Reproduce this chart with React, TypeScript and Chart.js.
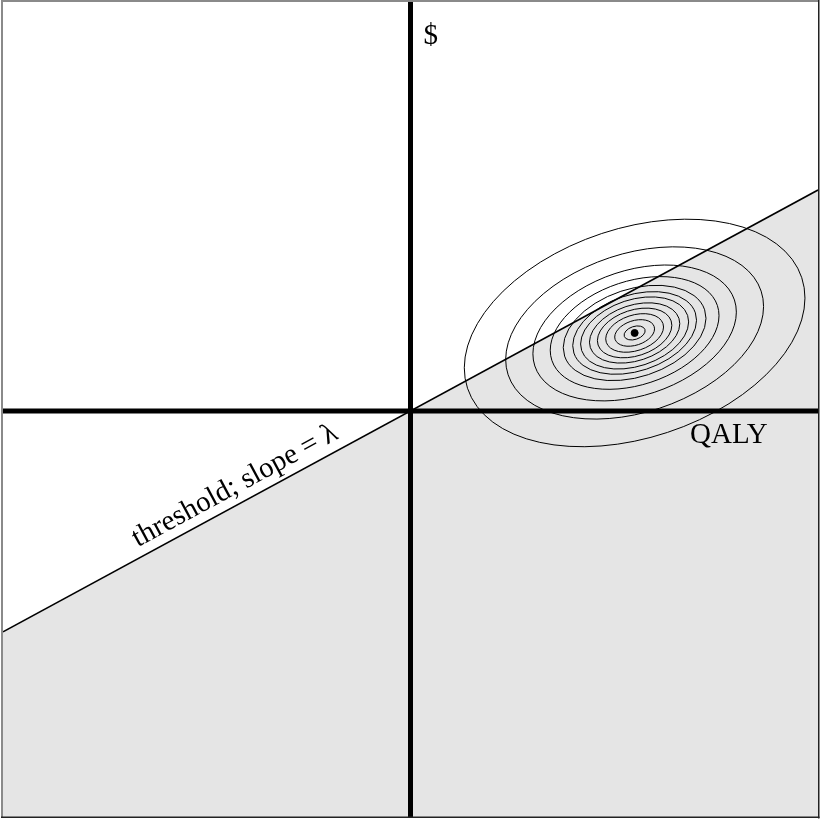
import React, { useEffect, useRef } from "react";
import { Chart, registerables } from "chart.js";
Chart.register(...registerables);

// ---- data ----
const xRange = [-1, 1];
const yRange = [-1, 1.007];
const lambdaSlope = 0.544;
const thresholdX = [-1, 1];
const meanPoint = [0.55, 0.192];
const contourSemiMajor = [0.0267, 0.0505, 0.0733, 0.0944, 0.1145, 0.137, 0.157, 0.181, 0.214, 0.258, 0.327, 0.432];
const contourAxisRatio = 0.595;
const contourAngleDeg = 18.3;
const costLabel = "$";
const effectLabel = "QALY";
const thresholdLabel = "threshold; slope = λ";

// label anchors (data coordinates)
const costLabelAt = [0.032, 0.904];
const effectLabelAt = [0.686, -0.079];
const thresholdLabelX = -0.41;

const FONT = "29px 'Liberation Serif', 'Times New Roman', serif";

const overlayPlugin = {
  id: "overlay",
  afterDatasetDraw(chart: any, args: any) {
    if (args.index !== 0) return;
    const { ctx, chartArea } = chart;
    const xs = chart.scales.x;
    const ys = chart.scales.y;
    const cx = xs.getPixelForValue(meanPoint[0]);
    const cy = ys.getPixelForValue(meanPoint[1]);
    const unit = xs.getPixelForValue(1) - xs.getPixelForValue(0);
    ctx.save();
    ctx.beginPath();
    ctx.rect(chartArea.left, chartArea.top, chartArea.right - chartArea.left, chartArea.bottom - chartArea.top);
    ctx.clip();
    ctx.strokeStyle = "#000";
    ctx.lineWidth = 1;
    for (const a of contourSemiMajor) {
      ctx.beginPath();
      ctx.ellipse(cx, cy, a * unit, a * contourAxisRatio * unit, (-contourAngleDeg * Math.PI) / 180, 0, Math.PI * 2);
      ctx.stroke();
    }
    ctx.restore();
  },
  afterDraw(chart: any) {
    const { ctx } = chart;
    const xs = chart.scales.x;
    const ys = chart.scales.y;
    ctx.save();
    // frame
    ctx.fillStyle = "#8a8a8a";
    ctx.fillRect(1, 0, 2, 818);
    ctx.fillRect(1, 0, 818, 2);
    ctx.fillStyle = "#222";
    ctx.fillRect(818, 0, 1.5, 818.5);
    ctx.fillRect(1, 816.5, 818.5, 1.5);
    // labels
    ctx.font = FONT;
    ctx.fillStyle = "#000";
    ctx.textBaseline = "alphabetic";
    ctx.textAlign = "left";
    ctx.fillText(costLabel, xs.getPixelForValue(costLabelAt[0]), ys.getPixelForValue(costLabelAt[1]));
    ctx.fillText(effectLabel, xs.getPixelForValue(effectLabelAt[0]), ys.getPixelForValue(effectLabelAt[1]));
    const px = xs.getPixelForValue(thresholdLabelX);
    const py = ys.getPixelForValue(thresholdLabelX * lambdaSlope);
    const ang = Math.atan2(
      ys.getPixelForValue(lambdaSlope) - ys.getPixelForValue(-lambdaSlope),
      xs.getPixelForValue(1) - xs.getPixelForValue(-1)
    );
    ctx.translate(px, py);
    ctx.rotate(ang);
    ctx.textAlign = "center";
    ctx.fillText(thresholdLabel, 0, -10);
    ctx.restore();
  },
};

export default function App() {
  const ref = useRef<HTMLCanvasElement | null>(null);
  useEffect(() => {
    if (!ref.current) return;
    const chart = new Chart(ref.current, {
      type: "scatter",
      data: {
        datasets: [
          {
            label: "threshold",
            data: thresholdX.map((x) => ({ x, y: x * lambdaSlope })),
            showLine: true,
            fill: "start",
            backgroundColor: "#e5e5e5",
            borderColor: "#000",
            borderWidth: 1.6,
            pointRadius: 0,
            order: 5,
          } as any,
          {
            label: "xaxis",
            data: [
              { x: xRange[0], y: 0 },
              { x: xRange[1], y: 0 },
            ],
            showLine: true,
            borderColor: "#000",
            borderWidth: 5,
            borderCapStyle: "square",
            clip: 0,
            pointRadius: 0,
            order: 1,
          } as any,
          {
            label: "yaxis",
            data: [
              { x: 0, y: yRange[0] },
              { x: 0, y: yRange[1] },
            ],
            showLine: true,
            borderColor: "#000",
            borderWidth: 5,
            borderCapStyle: "square",
            clip: 0,
            pointRadius: 0,
            order: 1,
          } as any,
          {
            label: "mean",
            data: [{ x: meanPoint[0], y: meanPoint[1] }],
            backgroundColor: "#000",
            borderColor: "#000",
            pointRadius: 3.5,
            order: 0,
          },
        ],
      },
      options: {
        responsive: false,
        animation: false,
        events: [],
        layout: { autoPadding: false, padding: { left: 3, right: 2, top: 2, bottom: 2 } },
        plugins: { legend: { display: false }, tooltip: { enabled: false } },
        scales: {
          x: { type: "linear", min: xRange[0], max: xRange[1], display: false },
          y: { type: "linear", min: yRange[0], max: yRange[1], display: false },
        },
      },
      plugins: [overlayPlugin],
    });
    return () => chart.destroy();
  }, []);
  return (
    <div style={{ position: "absolute", left: 0, top: 0, width: 820, height: 819, background: "#fff" }}>
      <canvas ref={ref} width={820} height={819} style={{ display: "block" }} />
    </div>
  );
}
